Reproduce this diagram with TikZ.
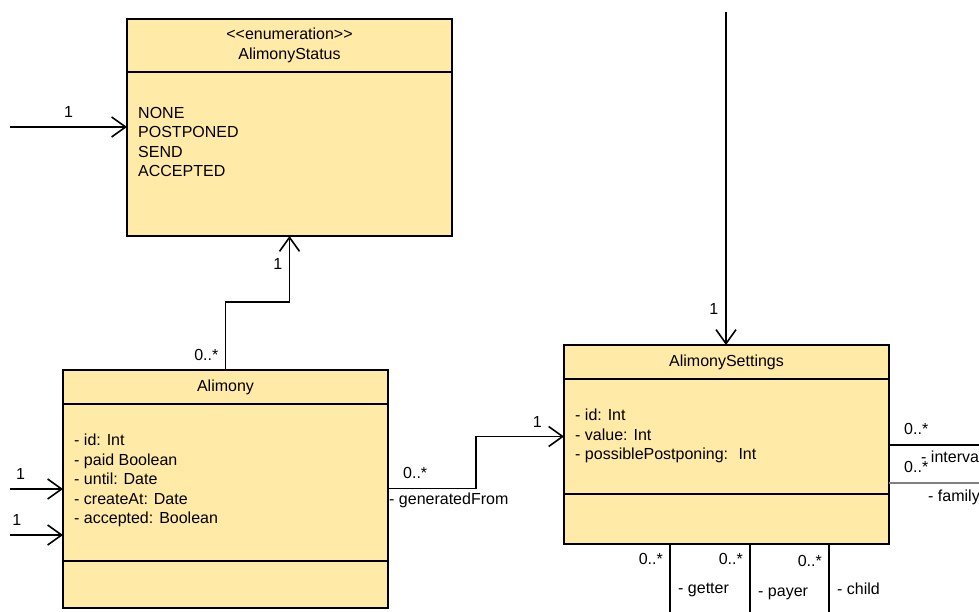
\documentclass[tikz,border=0pt]{standalone}
\usepackage{fontspec}
\setmainfont{Liberation Sans}
\usepackage{tikz}
\usetikzlibrary{shapes, arrows.meta}
\usetikzlibrary{positioning}
\definecolor{classfill}{HTML}{FFEAA7}
\tikzstyle{classhead} = [rectangle, minimum width = 325, draw = black,
  fill = classfill, line width = 1.6, inner sep = 0, outer sep = 0, align = center]
\tikzstyle{classpart} = [
  rectangle, minimum width = 325,
  draw = black, fill = classfill,
  line width = 1.6, inner sep = 0, outer sep = 0
]
\tikzstyle{attrs} = [rectangle, inner sep = 0, align = left, anchor = north west]
\tikzstyle{mult} = [rectangle, inner sep = 0]
\tikzstyle{assoc} = [line width = 1.6, -{Straight Barb[length = 14pt, width = 20pt]}]
\tikzstyle{link} = [line width = 1.6]

\begin{document}
\begin{tikzpicture}[x = 1pt, y = -1pt, font = \fontsize{16}{19.5}\selectfont]
    \useasboundingbox (0, 0) rectangle (979, 612);
    % alimony-status
    \node [classhead, minimum height = 53, anchor = north west] (status-head) at (127, 19)
    {<{}<enumeration>{}>\\AlimonyStatus};
    \node [classpart, minimum height = 164, below = 0 of status-head] (status-body) {};
    \node [attrs] (status-attrs) at ([xshift = 11, yshift = -35]status-body.north west)
    {NONE\\POSTPONED\\SEND\\ACCEPTED};
    % alimony
    \node [classhead, minimum height = 34, anchor = north west] (alimony-head) at (63, 370)
    {Alimony};
    \node [classpart, minimum height = 157, below = 0 of alimony-head] (alimony-body) {};
    \node [classpart, minimum height = 47, below = 0 of alimony-body] (alimony-tail) {};
    \node [attrs] (alimony-attrs) at ([xshift = 11, yshift = -30]alimony-body.north west)
    {- id: Int\\- paid Boolean\\- until: Date\\- createAt: Date\\- accepted: Boolean};
    % alimony-settings
    \node [classhead, minimum height = 34, anchor = north west] (settings-head) at (564, 345)
    {AlimonySettings};
    \node [classpart, minimum height = 115, below = 0 of settings-head] (settings-body) {};
    \node [classpart, minimum height = 50, below = 0 of settings-body] (settings-tail) {};
    \node [attrs] (settings-attrs) at ([xshift = 11, yshift = -30]settings-body.north west)
    {- id: Int\\- value: Int\\- possiblePostponing:~ Int};

    % free ends
    \coordinate (status-in) at (10, 127);
    \coordinate (alimony-in-a) at (10, 489);
    \coordinate (alimony-in-b) at (10, 535);
    \coordinate (settings-in) at (726, 12);
    \coordinate (interval-end) at (979, 445);
    \coordinate (family-end) at (979, 483);
    \coordinate (getter-end) at (670, 612);
    \coordinate (payer-end) at (750, 612);
    \coordinate (child-end) at (829, 612);
    \coordinate (gen-start) at ([yshift = -6]alimony-body.east);
    \coordinate (interval-start) at (interval-end -| settings-body.east);
    \coordinate (family-start) at (family-end -| settings-body.east);
    \coordinate (getter-start) at (getter-end |- settings-tail.south);
    \coordinate (payer-start) at (payer-end |- settings-tail.south);
    \coordinate (child-start) at (child-end |- settings-tail.south);

    \draw [assoc] (status-in) -- (status-in -| status-body.west)
    node [mult, above = 9pt, midway] {1};
    \draw [assoc] (alimony-head.north) -- ++(0, -68) -| (status-body.south);
    \node [mult, anchor = south east] (status-many) at ([xshift = -7, yshift = 9]alimony-head.north) {0..*};
    \node [mult, anchor = north east] (status-one) at ([xshift = -7, yshift = -22]status-body.south) {1};
    \draw [assoc] (alimony-in-a) -- (alimony-in-a -| alimony-body.west)
    node [mult, above = 9pt, pos = 0.2] {1};
    \draw [assoc] (alimony-in-b) -- (alimony-in-b -| alimony-body.west)
    node [mult, above = 9pt, pos = 0.13] {1};
    \draw [assoc] (gen-start) -- ++(88, 0) |- (settings-body.west);
    \node [mult, anchor = south west] (gen-many) at ([xshift = 15, yshift = 10]gen-start) {0..*};
    \node [mult, anchor = west] (gen-role) at ([xshift = 1, yshift = -12]gen-start) {- generatedFrom};
    \node [mult, anchor = south east] (gen-one) at ([xshift = -22, yshift = 9]settings-body.west) {1};
    \draw [assoc] (settings-in) -- (settings-in |- settings-head.north);
    \node [mult, anchor = south east] (settings-one) at ([xshift = -8, yshift = 30]settings-head.north) {1};
    % right side
    \draw [link] (interval-start) -- (interval-end);
    \draw [link, draw = gray] (family-start) -- (family-end);
    \node [mult, anchor = south west] (interval-many) at ([xshift = 15, yshift = 10]interval-start) {0..*};
    \node [mult, anchor = west] (interval-role) at ([xshift = 32, yshift = -12]interval-start) {- interva};
    \node [mult, anchor = south west] (family-many) at ([xshift = 15, yshift = 10]family-start) {0..*};
    \node [mult, anchor = west] (family-role) at ([xshift = 39, yshift = -14]family-start) {- family};
    % bottom side
    \draw [link] (getter-start) -- (getter-end);
    \draw [link] (payer-start) -- (payer-end);
    \draw [link] (child-start) -- (child-end);
    \node [mult, anchor = north east] (getter-many) at ([xshift = -7, yshift = -9]getter-start) {0..*};
    \node [mult, anchor = north east] (payer-many) at ([xshift = -7, yshift = -9]payer-start) {0..*};
    \node [mult, anchor = north east] (child-many) at ([xshift = -7, yshift = -11]child-start) {0..*};
    \node [mult, anchor = west] (getter-role) at ([xshift = 8, yshift = -46]getter-start) {- getter};
    \node [mult, anchor = west] (payer-role) at ([xshift = 8, yshift = -50]payer-start) {- payer};
    \node [mult, anchor = west] (child-role) at ([xshift = 8, yshift = -45]child-start) {- child};
  \end{tikzpicture}
\end{document}
